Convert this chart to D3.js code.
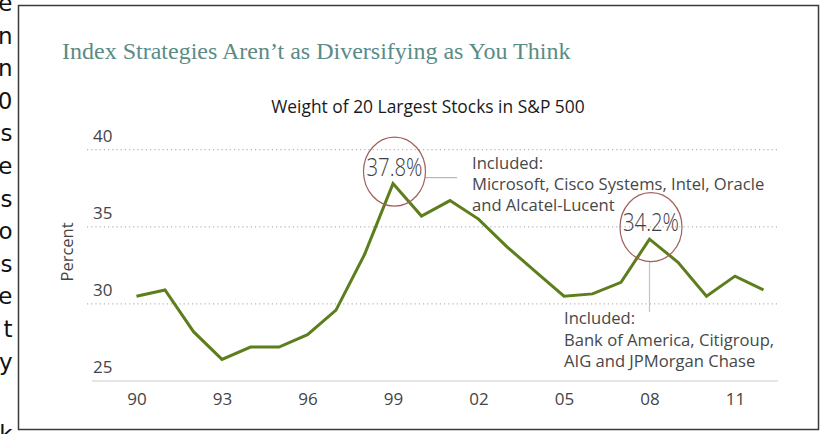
<!DOCTYPE html>
<html>
<head>
<meta charset="utf-8">
<script src="https://cdn.jsdelivr.net/npm/d3@7"></script>
<style>
  html, body { margin: 0; padding: 0; background: #fff; }
  svg { display: block; }
</style>
</head>
<body>
<div id="chart"></div>
<script>
// data
const years = [1990, 1991, 1992, 1993, 1994, 1995, 1996, 1997, 1998, 1999, 2000, 2001,
               2002, 2003, 2004, 2005, 2006, 2007, 2008, 2009, 2010, 2011, 2012];
const weights = [30.5, 30.9, 28.2, 26.4, 27.2, 27.2, 28.0, 29.6, 33.2, 37.8, 35.7, 36.7,
                 35.5, 33.7, 32.1, 30.5, 30.65, 31.4, 34.2, 32.7, 30.5, 31.8, 30.9];
const yTicks = [25, 30, 35, 40];
const xTicks = [1990, 1993, 1996, 1999, 2002, 2005, 2008, 2011];
const xTickLabels = ["90", "93", "96", "99", "02", "05", "08", "11"];
const peaks = [{year: 1999, label: "37.8%"}, {year: 2008, label: "34.2%"}];
const note1 = ["Included:", "Microsoft, Cisco Systems, Intel, Oracle", "and Alcatel-Lucent"];
const note2 = ["Included:", "Bank of America, Citigroup,", "AIG and JPMorgan Chase"];
const edgeLetters = ["e", "n", "n", "0", "s", "e", "s", "o", "s", "e", "t", "y", "k"];

const title = "Index Strategies Aren\u2019t as Diversifying as You Think";
const subtitle = "Weight of 20 Largest Stocks in S&P 500";

const width = 825, height = 434;
const sans = "'Open Sans', 'Noto Sans', sans-serif";

const svg = d3.select("#chart").append("svg")
    .attr("width", width)
    .attr("height", height);

// clipped text from the page next to the figure
svg.append("g")
    .attr("font-family", "'DejaVu Sans', sans-serif")
    .attr("font-size", 23)
    .attr("fill", "#111")
    .attr("text-anchor", "end")
  .selectAll("text")
  .data(edgeLetters)
  .join("text")
    .attr("x", 12.5)
    .attr("y", (d, i) => i < 12 ? 11 + i * 32.6 : 442)
    .text(d => d);

// frame
svg.append("rect")
    .attr("x", 18.5).attr("y", 5.5)
    .attr("width", 800).attr("height", 424)
    .attr("fill", "#fff")
    .attr("stroke", "#3a3a3a")
    .attr("stroke-width", 1.5);

svg.append("text")
    .attr("x", 62).attr("y", 59)
    .attr("font-family", "'Liberation Serif', 'DejaVu Serif', serif")
    .attr("font-size", 24)
    .attr("fill", "#5a8b86")
    .text(title);

svg.append("text")
    .attr("x", 428).attr("y", 113)
    .attr("text-anchor", "middle")
    .attr("font-family", sans)
    .attr("font-size", 17.4)
    .attr("fill", "#1a1a1a")
    .text(subtitle);

const x = d3.scaleLinear().domain([1990, 2011]).range([136.5, 735]);
const y = d3.scaleLinear().domain([25, 40]).range([381, 149.7]);

// dotted grid
svg.append("g")
  .selectAll("line")
  .data(yTicks.filter(d => d > 25))
  .join("line")
    .attr("x1", 87).attr("x2", 780)
    .attr("y1", d => y(d)).attr("y2", d => y(d))
    .attr("stroke", "#b5b5b5")
    .attr("stroke-width", 1.2)
    .attr("stroke-dasharray", "1.2,3");

// baseline
svg.append("line")
    .attr("x1", 92).attr("x2", 778)
    .attr("y1", y(25)).attr("y2", y(25))
    .attr("stroke", "#dcdcdc")
    .attr("stroke-width", 1.5);

// y tick labels sit above their grid lines
svg.append("g")
    .attr("font-family", sans)
    .attr("font-size", 17)
    .attr("fill", "#444")
  .selectAll("text")
  .data(yTicks)
  .join("text")
    .attr("x", 93)
    .attr("y", d => y(d) - 8)
    .text(d => d);

const xAxis = svg.append("g")
    .attr("transform", `translate(0,${y(25)})`)
    .call(d3.axisBottom(x).tickValues(xTicks)
        .tickFormat((d, i) => xTickLabels[i]).tickSize(0).tickPadding(12));
xAxis.select(".domain").remove();
xAxis.selectAll("text")
    .attr("font-family", sans)
    .attr("font-size", 17)
    .attr("fill", "#444");

svg.append("text")
    .attr("transform", `translate(73,252) rotate(-90)`)
    .attr("text-anchor", "middle")
    .attr("font-family", sans)
    .attr("font-size", 16.5)
    .attr("fill", "#444")
    .text("Percent");

// leader lines
svg.append("line")
    .attr("x1", x(1999) + 32).attr("x2", x(1999) + 64)
    .attr("y1", y(37.8) - 6).attr("y2", y(37.8) - 6)
    .attr("stroke", "#b8b8b8").attr("stroke-width", 1.2);
svg.append("line")
    .attr("x1", x(2008)).attr("x2", x(2008))
    .attr("y1", y(34.2) + 22).attr("y2", y(34.2) + 73)
    .attr("stroke", "#c4c4c4").attr("stroke-width", 1.2);

const line = d3.line()
    .x((d, i) => x(years[i]))
    .y(d => y(d));

svg.append("path")
    .datum(weights)
    .attr("fill", "none")
    .attr("stroke", "#5e7d1c")
    .attr("stroke-width", 3)
    .attr("stroke-linejoin", "miter")
    .attr("d", line);

// circled peak labels
const peak = svg.append("g")
  .selectAll("g")
  .data(peaks)
  .join("g")
    .attr("transform", d => {
        const v = weights[years.indexOf(d.year)];
        return `translate(${x(d.year) + 1.5},${y(v) - 12})`;
    });

peak.append("ellipse")
    .attr("rx", 31).attr("ry", 34.5)
    .attr("fill", "none")
    .attr("stroke", "#a0615c")
    .attr("stroke-width", 1.2);

peak.append("text")
    .attr("y", 4)
    .attr("text-anchor", "middle")
    .attr("font-family", sans)
    .attr("font-size", 26)
    .attr("font-weight", 300)
    .attr("fill", "#3c3c44")
    .attr("textLength", 56)
    .attr("lengthAdjust", "spacingAndGlyphs")
    .text(d => d.label);

function note(lines, x0, y0, step) {
    svg.append("g")
        .attr("font-family", sans)
        .attr("font-size", 16.6)
        .attr("fill", "#474747")
      .selectAll("text")
      .data(lines)
      .join("text")
        .attr("x", x0)
        .attr("y", (d, i) => y0 + i * step)
        .text(d => d);
}
note(note1, 472, 169, 21);
note(note2, 564, 324, 21.5);
</script>
</body>
</html>
